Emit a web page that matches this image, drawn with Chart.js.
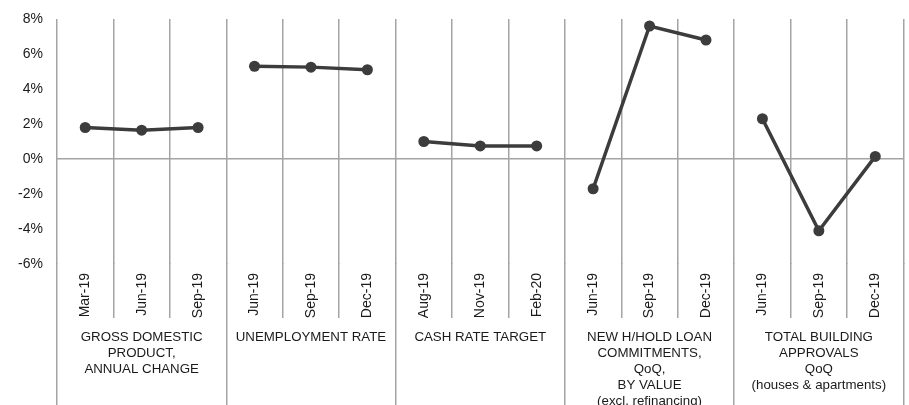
<!DOCTYPE html>
<html>
<head>
<meta charset="utf-8">
<script src="https://cdn.jsdelivr.net/npm/chart.js@4/dist/chart.umd.min.js"></script>
<style>
  html, body { margin: 0; padding: 0; background: #fff; }
  #chart { display: block; }
</style>
</head>
<body>
<canvas id="chart" width="909" height="405"></canvas>
<script>
// Indicadores: tres lecturas por serie, cada serie en su propio bloque del eje X

const categories = [
  'Mar-19', 'Jun-19', 'Sep-19',
  'Jun-19', 'Sep-19', 'Dec-19',
  'Aug-19', 'Nov-19', 'Feb-20',
  'Jun-19', 'Sep-19', 'Dec-19',
  'Jun-19', 'Sep-19', 'Dec-19'
];

const groupTitles = [
  ['GROSS DOMESTIC', 'PRODUCT,', 'ANNUAL CHANGE'],
  ['UNEMPLOYMENT RATE'],
  ['CASH RATE TARGET'],
  ['NEW H/HOLD LOAN', 'COMMITMENTS,', 'QoQ,', 'BY VALUE', '(excl. refinancing)'],
  ['TOTAL BUILDING', 'APPROVALS', 'QoQ', '(houses & apartments)']
];

const gdpChange = [1.8, 1.65, 1.8];
const unemploymentRate = [5.3, 5.25, 5.1];
const cashRateTarget = [1.0, 0.75, 0.75];
const loanCommitments = [-1.7, 7.6, 6.8];
const buildingApprovals = [2.3, -4.1, 0.15];

const yMin = -6;
const yMax = 8;
const yStep = 2;

const GROUP_SIZE = 3;
const LINE_COLOR = '#3c3c3c';
const GRID_COLOR = '#a4a4a4';
const GRID_WIDTH = 1.5;
const TEXT_COLOR = '#1a1a1a';
const FONT_FAMILY = '"Liberation Sans", Arial, Helvetica, sans-serif';

// cada serie ocupa solo sus 3 posiciones; el resto queda en null para cortar la línea
function placeSeries(values, groupIndex) {
  return categories.map((_, i) => {
    const j = i - groupIndex * GROUP_SIZE;
    return j >= 0 && j < GROUP_SIZE ? values[j] : null;
  });
}

const series = [gdpChange, unemploymentRate, cashRateTarget, loanCommitments, buildingApprovals];

const datasets = series.map((values, g) => ({
  data: placeSeries(values, g),
  borderColor: LINE_COLOR,
  backgroundColor: LINE_COLOR,
  borderWidth: 3.5,
  pointRadius: 5.5,
  pointBorderWidth: 0,
  pointBackgroundColor: LINE_COLOR,
  tension: 0,
  spanGaps: false
}));

// mismo redondeo que usa Chart.js para las líneas de la grilla
function alignPixel(px, width) {
  const half = width / 2;
  return Math.round(px - half) + half;
}

// separadores bajo el eje y títulos de cada bloque
const groupAxis = {
  id: 'groupAxis',
  afterDraw(chart) {
    const { ctx, chartArea } = chart;
    const x = chart.scales.x;
    ctx.save();
    ctx.strokeStyle = GRID_COLOR;
    ctx.lineWidth = GRID_WIDTH;
    for (let i = 0; i <= categories.length; i++) {
      const px = alignPixel(x.getPixelForValue(i - 0.5), GRID_WIDTH);
      const end = i % GROUP_SIZE === 0 ? chart.height : x.bottom;
      ctx.beginPath();
      ctx.moveTo(px, chartArea.bottom - 1);
      ctx.lineTo(px, end);
      ctx.stroke();
    }

    ctx.fillStyle = TEXT_COLOR;
    ctx.font = '13.3px ' + FONT_FAMILY;
    ctx.textAlign = 'center';
    ctx.textBaseline = 'alphabetic';
    groupTitles.forEach((lines, g) => {
      const cx = x.getPixelForValue(g * GROUP_SIZE + 1);
      lines.forEach((line, k) => {
        ctx.fillText(line, cx, x.bottom + 23 + k * 16);
      });
    });
    ctx.restore();
  }
};

new Chart(document.getElementById('chart'), {
  type: 'line',
  data: { labels: categories, datasets },
  plugins: [groupAxis],
  options: {
    responsive: false,
    devicePixelRatio: 1,
    animation: false,
    layout: { padding: { top: 19, right: 5, bottom: 87, left: 0 } },
    plugins: {
      legend: { display: false },
      tooltip: { enabled: false }
    },
    scales: {
      x: {
        offset: true,
        border: { display: false },
        grid: { offset: true, drawTicks: false, color: GRID_COLOR, lineWidth: GRID_WIDTH },
        ticks: {
          autoSkip: false,
          minRotation: 90,
          maxRotation: 90,
          padding: 9,
          color: TEXT_COLOR,
          font: { family: FONT_FAMILY, size: 14 }
        },
        afterFit(scale) { scale.height = 54; }
      },
      y: {
        min: yMin,
        max: yMax,
        border: { display: false },
        grid: {
          drawTicks: false,
          color: ctx => (ctx.tick && ctx.tick.value === 0 ? GRID_COLOR : 'transparent'),
          lineWidth: GRID_WIDTH
        },
        ticks: {
          stepSize: yStep,
          padding: 14,
          color: TEXT_COLOR,
          font: { family: FONT_FAMILY, size: 14 },
          callback: v => v + '%'
        },
        // ancho fijo y sin margen extra arriba/abajo: el área útil la marca layout.padding
        afterFit(scale) {
          scale.width = 57;
          scale.paddingTop = 0;
          scale.paddingBottom = 0;
        }
      }
    }
  }
});
</script>
</body>
</html>
